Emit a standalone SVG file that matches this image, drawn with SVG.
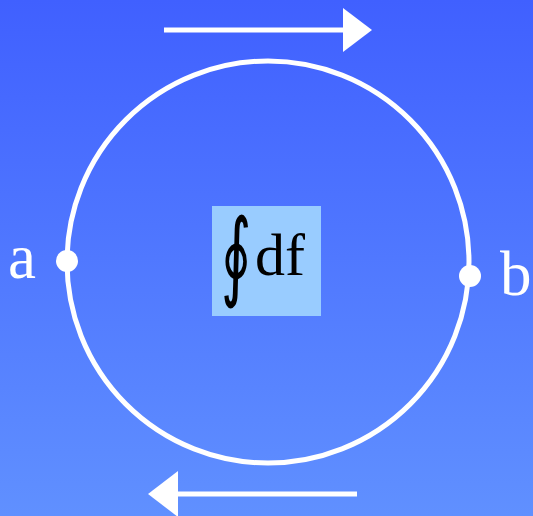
<svg xmlns="http://www.w3.org/2000/svg" width="533" height="516" viewBox="0 0 533 516">
<defs>
<linearGradient id="bg" x1="0" y1="0" x2="0" y2="1">
<stop offset="0" stop-color="#4060ff"/>
<stop offset="1" stop-color="#6090ff"/>
</linearGradient>
<style>
.w{fill:#fff}
.lbl{font-family:"Liberation Serif","Times New Roman",serif;font-size:63px;fill:#fff}
.ln{stroke:#fff;stroke-width:5;fill:none}
</style>
</defs>
<rect width="533" height="516" fill="url(#bg)"/>
<g id="connectors">
<circle cx="268" cy="262" r="201" class="ln"/>
<line x1="164" y1="30" x2="345" y2="30" class="ln"/>
<polygon points="343,8 372,30 343,52" class="w"/>
<line x1="177" y1="494" x2="357" y2="494" class="ln"/>
<polygon points="178,471 148,494 178,517" class="w"/>
</g>
<g id="a">
<circle cx="67" cy="261" r="11" class="w"/>
<text x="8" y="278" class="lbl">a</text>
</g>
<g id="b">
<circle cx="470" cy="276" r="11" class="w"/>
<text x="500" y="295" class="lbl">b</text>
</g>
<g id="integral">
<rect x="212" y="206" width="109" height="110" fill="#99ccff"/>
<text transform="translate(236,288) scale(0.6,1)" text-anchor="middle" font-family="DejaVu Serif,serif" font-size="97" fill="#000">∮</text>
<text x="255" y="275" font-family="Liberation Serif,serif" font-size="60" fill="#000">df</text>
</g>
</svg>
